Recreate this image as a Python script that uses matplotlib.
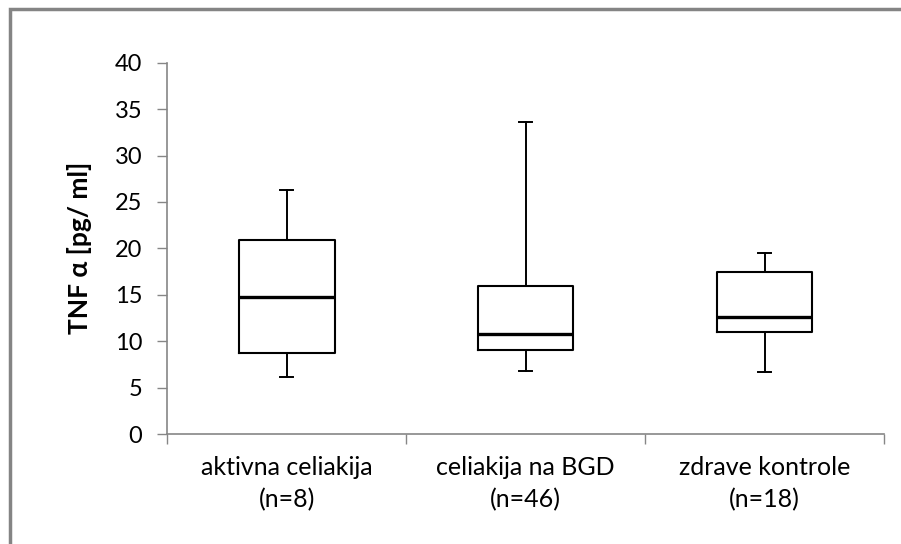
import matplotlib.pyplot as plt
from matplotlib.patches import Rectangle

plt.rcParams['font.family'] = ['Lato', 'DejaVu Sans']

groups = ["aktivna celiakija\n(n=8)", "celiakija na BGD\n(n=46)", "zdrave kontrole\n(n=18)"]
whislo = [6.1, 6.75, 6.65]
q1 = [8.7, 9.0, 10.95]
med = [14.8, 10.75, 12.6]
q3 = [20.85, 15.9, 17.45]
whishi = [26.25, 33.65, 19.55]

stats = []
for i in range(len(groups)):
    stats.append(dict(whislo=whislo[i], q1=q1[i], med=med[i], q3=q3[i],
                      whishi=whishi[i], fliers=[]))

fig = plt.figure(figsize=(9.01, 5.44), dpi=100)
ax = fig.add_axes([0.1857, 0.2022, 0.7955, 0.6825])

positions = [i + 0.5 for i in range(len(groups))]
ax.bxp(stats, positions=positions, widths=0.4, showfliers=False,
       boxprops=dict(color='black', linewidth=1.5),
       whiskerprops=dict(color='black', linewidth=1.4),
       capprops=dict(color='black', linewidth=1.4),
       medianprops=dict(color='black', linewidth=2.4),
       capwidths=0.055)

ax.set_xlim(0, 3)
ax.set_ylim(0, 40)
ax.set_yticks(range(0, 41, 5))
ax.tick_params(axis='y', length=7, width=1, color='#868686', pad=11, labelsize=17)

# group boundaries get the tick marks, centres get the labels
ax.set_xticks([0, 1, 2, 3])
ax.set_xticklabels([])
ax.tick_params(axis='x', which='major', length=7, width=1, color='#868686')
ax.set_xticks(positions, minor=True)
ax.set_xticklabels(groups, minor=True, fontsize=18, linespacing=1.45)
ax.tick_params(axis='x', which='minor', length=0, pad=16)

for side in ['top', 'right']:
    ax.spines[side].set_visible(False)
for side in ['left', 'bottom']:
    ax.spines[side].set_color('#868686')
    ax.spines[side].set_linewidth(1.2)

ax.set_ylabel("TNF α [pg/ ml]", fontsize=19, labelpad=16, fontweight='bold')

# outer frame around the chart area
fig.patches.append(Rectangle((0.0115, -0.05), 1.05, 1.0335, transform=fig.transFigure,
                             fill=False, edgecolor='#848484', linewidth=2.5))

fig.savefig("out.png", dpi=100)
